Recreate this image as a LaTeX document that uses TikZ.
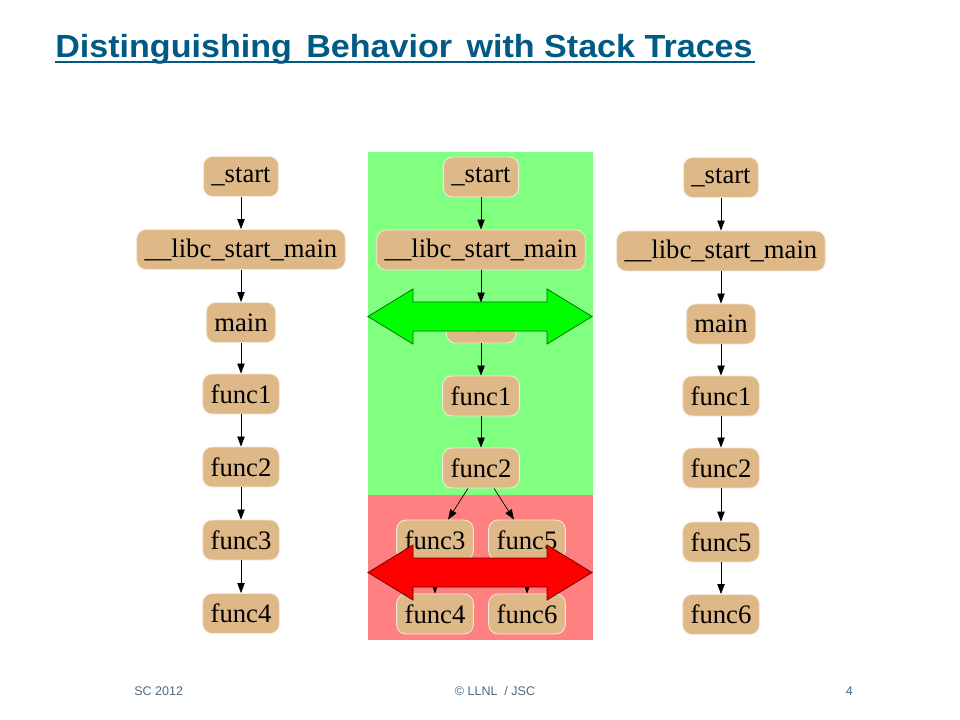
\documentclass[tikz,border=0pt]{standalone}
\usepackage{fontspec}
\setmainfont{Liberation Serif}
\setsansfont{Liberation Sans}
\newfontfamily\titlefont[FakeStretch=1.065]{Liberation Sans}
\usepackage{xcolor}
\usetikzlibrary{arrows.meta}

\definecolor{burly}{HTML}{DEB887}
\definecolor{lightgreen}{HTML}{80FF80}
\definecolor{lightred}{HTML}{FF8080}
\definecolor{titleblue}{HTML}{005A84}
\definecolor{footgray}{HTML}{4A6A84}

\tikzset{
    frame/.style={rounded corners=7pt, fill=burly, draw=white!70!burly, line width=0.6pt,
        minimum height=30pt, inner xsep=6pt, inner ysep=0pt,
        font=\fontsize{20}{24}\selectfont},
    call/.style={-{Triangle[length=7.5pt,width=5.5pt]}, line width=0.5pt},
    foot/.style={inner sep=0pt, font=\sffamily\fontsize{9.4}{11}\selectfont, text=footgray},
}

\begin{document}
\begin{tikzpicture}[x=0.75pt, y=-0.75pt]
    \useasboundingbox (0,0) rectangle (960,720);

    % Title
    \node[anchor=base west, font=\titlefont\bfseries\fontsize{24}{28}\selectfont, text=titleblue, inner sep=0pt]
        (title) at (55,57.5) {Distinguishing\hspace{0.45em}Behavior\hspace{0.45em}with Stack Traces};
    \draw[titleblue, line width=1.5pt] (55,62) -- (755,62);

    % Backgrounds of the middle trace
    \fill[lightgreen] (368,152) rectangle (593,495);
    \fill[lightred] (368,495) rectangle (593,640);

    % Left trace
    \node[frame] (lstart) at (241,176.5) {\_start};
    \node[frame] (llibc) at (241,249.5) {\_\_libc\_start\_main};
    \node[frame] (lmain) at (241,322.5) {main};
    \node[frame] (lf1) at (241,394) {func1};
    \node[frame] (lf2) at (241,467) {func2};
    \node[frame] (lf3) at (241,540) {func3};
    \node[frame] (lf4) at (241,613.5) {func4};
    \draw[call] (lstart) -- (llibc);
    \draw[call] (llibc) -- (lmain);
    \draw[call] (lmain) -- (lf1);
    \draw[call] (lf1) -- (lf2);
    \draw[call] (lf2) -- (lf3);
    \draw[call] (lf3) -- (lf4);

    % Middle trace (merged)
    \node[frame] (mstart) at (481,177) {\_start};
    \node[frame] (mlibc) at (481,250) {\_\_libc\_start\_main};
    \node[frame] (mmain) at (481,323) {main};
    \node[frame] (mf1) at (481,396) {func1};
    \node[frame] (mf2) at (481,468) {func2};
    \node[frame] (mf3) at (435,540) {func3};
    \node[frame] (mf5) at (527,540) {func5};
    \node[frame] (mf4) at (435,614) {func4};
    \node[frame] (mf6) at (527,614) {func6};
    \draw[call] (mstart) -- (mlibc);
    \draw[call] (mlibc) -- (mmain);
    \draw[call] (mmain) -- (mf1);
    \draw[call] (mf1) -- (mf2);
    \draw[call] (mf2) -- (mf3);
    \draw[call] (mf2) -- (mf5);
    \draw[call] (mf3) -- (mf4);
    \draw[call] (mf5) -- (mf6);

    % Right trace
    \node[frame] (rstart) at (721,177.5) {\_start};
    \node[frame] (rlibc) at (721,251) {\_\_libc\_start\_main};
    \node[frame] (rmain) at (721,324) {main};
    \node[frame] (rf1) at (721,396) {func1};
    \node[frame] (rf2) at (721,468) {func2};
    \node[frame] (rf5) at (721,542) {func5};
    \node[frame] (rf6) at (721,614.5) {func6};
    \draw[call] (rstart) -- (rlibc);
    \draw[call] (rlibc) -- (rmain);
    \draw[call] (rmain) -- (rf1);
    \draw[call] (rf1) -- (rf2);
    \draw[call] (rf2) -- (rf5);
    \draw[call] (rf5) -- (rf6);

    % Double arrows
    \draw[fill=green, draw=green!45!black, line width=0.6pt]
        (368,316.5) -- (413,289) -- (413,302) -- (547,302) -- (547,289) -- (592,316.5)
        -- (547,344) -- (547,331) -- (413,331) -- (413,344) -- cycle;
    \draw[fill=red, draw=red!45!black, line width=0.6pt]
        (368,572.5) -- (413,545) -- (413,558) -- (547,558) -- (547,545) -- (592,572.5)
        -- (547,600) -- (547,587) -- (413,587) -- (413,600) -- cycle;

    % Footer
    \node[foot, anchor=west] (conf) at (134,691) {SC 2012};
    \node[foot] (copy) at (495,691) {\textcopyright\ LLNL\ \ /\ JSC};
    \node[foot, anchor=east] (page) at (853,691) {4};
\end{tikzpicture}
\end{document}
